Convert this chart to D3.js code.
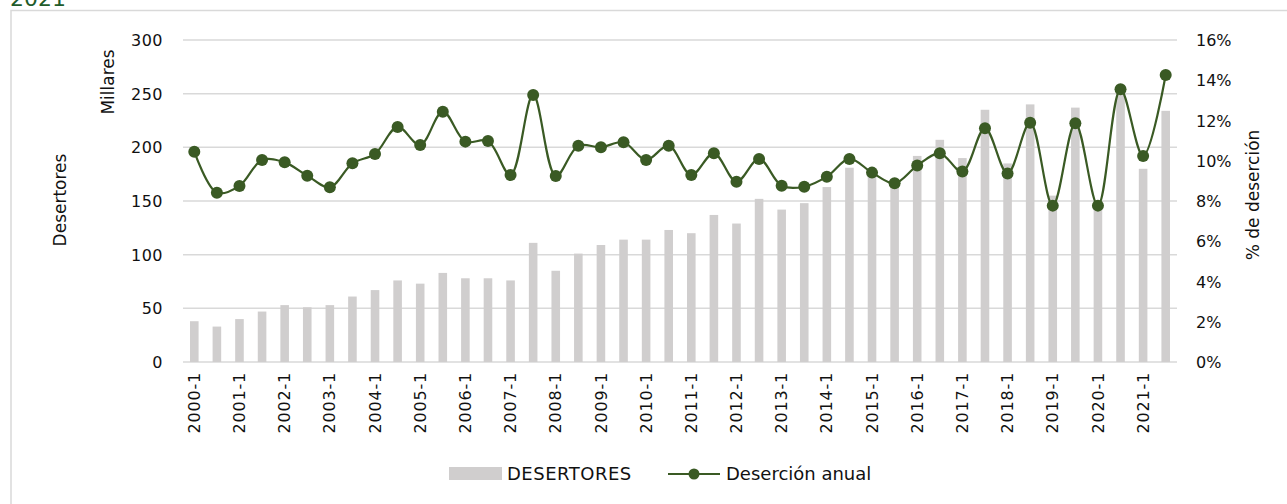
<!DOCTYPE html>
<html><head><meta charset="utf-8">
<script src="https://cdn.jsdelivr.net/npm/d3@7"></script>
<style>
body{margin:0;background:#fff;}
svg text{font-family:"DejaVu Sans","Noto Sans",sans-serif;fill:#111;}
</style></head>
<body><svg id="c" width="1287" height="504"></svg>
<script>
const categories = ["2000-1","2000-2","2001-1","2001-2","2002-1","2002-2","2003-1","2003-2","2004-1","2004-2","2005-1","2005-2","2006-1","2006-2","2007-1","2007-2","2008-1","2008-2","2009-1","2009-2","2010-1","2010-2","2011-1","2011-2","2012-1","2012-2","2013-1","2013-2","2014-1","2014-2","2015-1","2015-2","2016-1","2016-2","2017-1","2017-2","2018-1","2018-2","2019-1","2019-2","2020-1","2020-2","2021-1","2021-2"];
// DESERTORES (miles)
const desertores = [38,33,40,47,53,51,53,61,67,76,73,83,78,78,76,111,85,101,109,114,114,123,120,137,129,152,142,148,163,181,175,168,192,207,190,235,185,240,155,237,146,250,180,234];
// Deserción anual (%)
const desercion = [10.45,8.41,8.75,10.04,9.92,9.26,8.68,9.87,10.34,11.68,10.78,12.44,10.95,10.98,9.29,13.27,9.24,10.75,10.67,10.92,10.04,10.75,9.29,10.37,8.96,10.09,8.76,8.71,9.21,10.09,9.41,8.88,9.76,10.37,9.46,11.61,9.37,11.89,7.77,11.86,7.77,13.55,10.24,14.26];
const leftTicks = [0,50,100,150,200,250,300];
const rightTicks = [0,2,4,6,8,10,12,14,16];

const svg = d3.select("#c");
const green = "#3a5a24", barGray = "#d0cece", grid = "#d9d9d9";
const L = 183, R = 1177, T = 40, B = 362;

// frame
svg.append("rect").attr("x",11).attr("y",10.5).attr("width",1400).attr("height",600)
  .attr("fill","none").attr("stroke","#d9d9d9").attr("stroke-width",1.5);
svg.append("text").attr("x",10).attr("y",6).attr("font-size",22).style("fill","#1f5b2a").text("2021");

const x = d3.scaleBand().domain(categories).range([L,R]).paddingInner(0.62).paddingOuter(0.31);
const yL = d3.scaleLinear().domain([0,300]).range([B,T]);
const yR = d3.scaleLinear().domain([0,16]).range([B,T]);

// gridlines
svg.append("g").selectAll("line").data(leftTicks).join("line")
  .attr("x1",L).attr("x2",R).attr("y1",d=>yL(d)).attr("y2",d=>yL(d))
  .attr("stroke",grid).attr("stroke-width",1.5);

// bars
svg.append("g").selectAll("rect").data(desertores).join("rect")
  .attr("x",(d,i)=>x(categories[i])).attr("width",x.bandwidth())
  .attr("y",d=>yL(d)).attr("height",d=>yL(0)-yL(d)).attr("fill",barGray);

// axes
const axL = d3.axisLeft(yL).tickValues(leftTicks).tickSize(0).tickPadding(0);
const gL = svg.append("g").attr("transform",`translate(${163},0)`).call(axL);
gL.select(".domain").remove();
gL.selectAll("text").attr("font-size",16).attr("dy","0.35em").attr("letter-spacing",0.5);

const axR = d3.axisRight(yR).tickValues(rightTicks).tickFormat(d=>d+"%").tickSize(0).tickPadding(0);
const gR = svg.append("g").attr("transform",`translate(${1196},0)`).call(axR);
gR.select(".domain").remove();
gR.selectAll("text").attr("font-size",16).attr("dy","0.35em");

const axB = d3.axisBottom(x).tickValues(categories.filter((c,i)=>i%2===0)).tickSize(0).tickPadding(0);
const gB = svg.append("g").attr("transform",`translate(0,${B})`).call(axB);
gB.select(".domain").remove();
gB.selectAll("text").attr("font-size",16).attr("text-anchor","end").attr("letter-spacing",0.8)
  .attr("transform","translate(0,10) rotate(-90)").attr("dy","0.35em").attr("x",0).attr("y",0);

// line
const cx = i => x(categories[i]) + x.bandwidth()/2;
const line = d3.line().x((d,i)=>cx(i)).y(d=>yR(d)).curve(d3.curveCatmullRom.alpha(0.5));
svg.append("path").datum(desercion).attr("d",line).attr("fill","none").attr("stroke",green).attr("stroke-width",2.2);
svg.append("g").selectAll("circle").data(desercion).join("circle")
  .attr("cx",(d,i)=>cx(i)).attr("cy",d=>yR(d)).attr("r",6).attr("fill",green);

// axis titles
svg.append("text").attr("transform","translate(114,82) rotate(-90)").attr("text-anchor","middle").attr("font-size",17).text("Millares");
svg.append("text").attr("transform","translate(66,200) rotate(-90)").attr("text-anchor","middle").attr("font-size",17).text("Desertores");
svg.append("text").attr("transform","translate(1259,195) rotate(-90)").attr("text-anchor","middle").attr("font-size",17).text("% de deserción");

// legend
const lg = svg.append("g");
lg.append("rect").attr("x",449).attr("y",467).attr("width",53).attr("height",13).attr("fill",barGray);
lg.append("text").attr("x",507).attr("y",480).attr("font-size",18).attr("letter-spacing",0.5).text("DESERTORES");
lg.append("line").attr("x1",668).attr("x2",720).attr("y1",474).attr("y2",474).attr("stroke",green).attr("stroke-width",2.2);
lg.append("circle").attr("cx",694).attr("cy",474).attr("r",5.5).attr("fill",green);
lg.append("text").attr("x",726).attr("y",480).attr("font-size",18).text("Deserción anual");
</script></body></html>
